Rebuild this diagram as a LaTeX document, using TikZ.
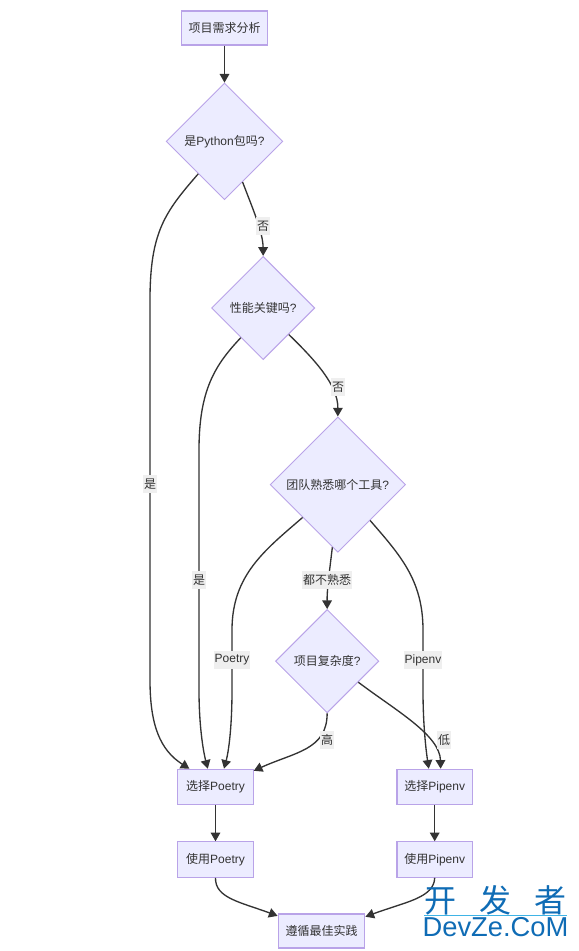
\documentclass[tikz,border=0pt]{standalone}
\usepackage{fontspec}
\setmainfont{Noto Sans CJK SC}
\newfontfamily\latinfont{Liberation Sans}
\usetikzlibrary{
  arrows.meta,
  positioning,
  shapes.geometric
}
\definecolor{flowInk}{HTML}{333333}
\definecolor{flowLilac}{HTML}{ECECFF}
\definecolor{flowPurple}{HTML}{B9A3E8}
\definecolor{flowGrey}{HTML}{EFEFEF}
\definecolor{flowMark}{HTML}{0F6CB5}
\definecolor{flowRule}{HTML}{3FB4E6}
\newcommand{\lat}[1]{{\latinfont #1}}
\tikzset{
  every node/.style={font=\fontsize{9}{11}\selectfont, text=flowInk},
  stepbox/.style={
    draw=flowPurple,
    line width=0.9pt,
    fill=flowLilac,
    minimum width=56.5pt,
    minimum height=26.5pt,
    inner sep=0pt
  },
  decision/.style={
    diamond,
    aspect=1,
    draw=flowPurple,
    line width=0.7pt,
    fill=flowLilac,
    inner sep=0pt
  },
  link/.style={
    -{Triangle[length=6.5pt,width=7.2pt]},
    line width=1.0pt,
    draw=flowInk
  },
  edgelabel/.style={
    fill=flowGrey,
    inner xsep=0.5pt,
    inner ysep=0pt,
    minimum height=13.5pt
  },
  markword/.style={
    text=flowMark,
    inner sep=0pt
  }
}
\begin{document}
\begin{tikzpicture}[x=0.75pt, y=-0.75pt]
  \useasboundingbox (0,0) rectangle (579,951);

  \node[stepbox, minimum width=65pt, minimum height=25.5pt] (analysis) at (224.5,28) {项目需求分析};
  \node[decision, minimum size=87.5pt, below=27.75pt of analysis] (ispackage) {是\lat{Python}包吗\lat{?}};
  \node[decision, minimum size=77.5pt, below=41.75pt of ispackage, xshift=29pt] (iscritical) {性能关键吗\lat{?}};
  \node[decision, minimum size=101.5pt, below=42.25pt of iscritical, xshift=56pt] (familiar) {团队熟悉哪个工具\lat{?}};
  \node[decision, minimum size=77.5pt, below=42.25pt of familiar, xshift=-8pt] (complexity) {项目复杂度\lat{?}};

  \node[stepbox] (poetry) at (215.5,787) {选择\lat{Poetry}};
  \node[stepbox, right=107pt of poetry] (pipenv) {选择\lat{Pipenv}};
  \node[stepbox, below=27pt of poetry] (usepoetry) {使用\lat{Poetry}};
  \node[stepbox, below=27pt of pipenv] (usepipenv) {使用\lat{Pipenv}};
  \node[stepbox, minimum width=65pt, minimum height=25.5pt] (practice) at (321.5,931) {遵循最佳实践};

  \draw[link] (analysis) -- (ispackage);
  \draw[link] (ispackage.231) .. controls (165,212) and (150,232) .. (150,300)
    -- (150,680) .. controls (150,725) and (160,750) .. (poetry.145);
  \draw[link] (ispackage.-66) .. controls (252,207) and (263,232) .. (iscritical.north);
  \draw[link] (iscritical.233) .. controls (215,365) and (199,390) .. (199,450)
    -- (199,690) .. controls (199,725) and (203,750) .. (poetry.113);
  \draw[link] (iscritical.-46) .. controls (315,360) and (338,385) .. (familiar.north);
  \draw[link] (familiar.223) .. controls (265,550) and (232,575) .. (232,630)
    -- (232,690) .. controls (232,725) and (229,750) .. (poetry.65);
  \draw[link] (familiar.265) .. controls (329,575) and (327,590) .. (complexity.north);
  \draw[link] (familiar.-48) .. controls (400,555) and (423,580) .. (423,630)
    -- (423,690) .. controls (423,725) and (426,750) .. (pipenv.108);
  \draw[link] (complexity.south) .. controls (327,750) and (295,752) .. (poetry.23);
  \draw[link] (complexity.-34) .. controls (395,710) and (440,735) .. (pipenv.72);
  \draw[link] (poetry) -- (usepoetry);
  \draw[link] (pipenv) -- (usepipenv);
  \draw[link] (usepoetry.south) .. controls (215,898) and (240,902) .. (practice.161);
  \draw[link] (usepipenv.south) .. controls (434,898) and (405,902) .. (practice.18);

  \node[edgelabel] (yesone) at (150,484) {是};
  \node[edgelabel] (noone) at (263,226) {否};
  \node[edgelabel] (yestwo) at (199,580) {是};
  \node[edgelabel] (notwo) at (338,387) {否};
  \node[edgelabel] (poetrypick) at (232,660) {\lat{Poetry}};
  \node[edgelabel] (unfamiliar) at (327,580) {都不熟悉};
  \node[edgelabel] (pipenvpick) at (423,660) {\lat{Pipenv}};
  \node[edgelabel] (high) at (327,740) {高};
  \node[edgelabel] (low) at (444,740) {低};

  % site mark over the corner
  \node[markword, font=\fontsize{24}{28}\selectfont, anchor=south] (markcn) at (495.5,915) {开\hspace{0.72em}发\hspace{0.72em}者};
  \node[markword, font=\latinfont\fontsize{20.5}{24}\selectfont, anchor=north] (markurl) at (495.5,917.5) {DevZe.CoM};
  \draw[flowRule, line width=0.6pt] (markcn.south west) -- (markcn.south east);
\end{tikzpicture}
\end{document}
